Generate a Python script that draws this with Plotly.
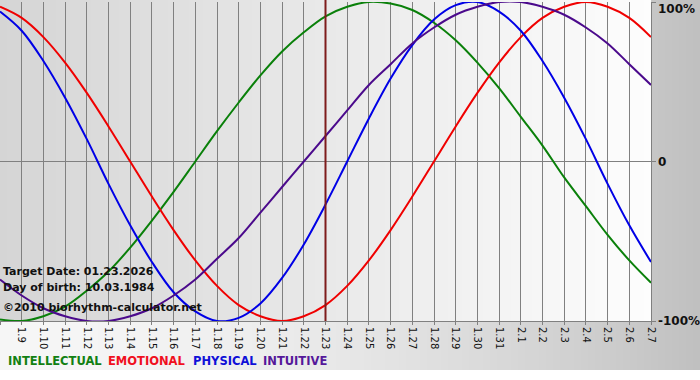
import plotly.graph_objects as go

# ---------------- data ----------------
dates = ["1.8", "1.9", "1.10", "1.11", "1.12", "1.13", "1.14", "1.15", "1.16", "1.17",
         "1.18", "1.19", "1.20", "1.21", "1.22", "1.23", "1.24", "1.25", "1.26", "1.27",
         "1.28", "1.29", "1.30", "1.31", "2.1", "2.2", "2.3", "2.4", "2.5", "2.6", "2.7"]

intellectual = [-0.99, -1.00, -0.97, -0.91, -0.81, -0.69, -0.54, -0.37, -0.19, 0.00,
                0.19, 0.37, 0.54, 0.69, 0.81, 0.91, 0.97, 1.00, 0.99, 0.95,
                0.87, 0.76, 0.62, 0.46, 0.28, 0.10, -0.10, -0.28, -0.46, -0.62, -0.76]

emotional = [0.97, 0.90, 0.78, 0.62, 0.43, 0.22, 0.00, -0.22, -0.43, -0.62,
             -0.78, -0.90, -0.97, -1.00, -0.97, -0.90, -0.78, -0.62, -0.43, -0.22,
             0.00, 0.22, 0.43, 0.62, 0.78, 0.90, 0.97, 1.00, 0.97, 0.90, 0.78]

physical = [0.94, 0.82, 0.63, 0.40, 0.14, -0.14, -0.40, -0.63, -0.82, -0.94,
            -1.00, -0.98, -0.89, -0.73, -0.52, -0.27, 0.00, 0.27, 0.52, 0.73,
            0.89, 0.98, 1.00, 0.94, 0.82, 0.63, 0.40, 0.14, -0.14, -0.40, -0.63]

intuitive = [-0.74, -0.84, -0.92, -0.97, -1.00, -1.00, -0.97, -0.92, -0.84, -0.74,
             -0.61, -0.48, -0.32, -0.16, 0.00, 0.16, 0.32, 0.48, 0.61, 0.74,
             0.84, 0.92, 0.97, 1.00, 1.00, 0.97, 0.92, 0.84, 0.74, 0.61, 0.48]

series_names = ["INTELLECTUAL", "EMOTIONAL", "PHYSICAL", "INTUITIVE"]
y_tick_values = [1, 0, -1]
y_tick_labels = ["100%", "0", "-100%"]
target_date = "1.23"
info_lines = ["Target Date: 01.23.2026", "Day of birth: 10.03.1984", "\u00a92010 biorhythm-calculator.net"]

# ---------------- style ----------------
line_colors = ["#0a800a", "#f00000", "#0000e6", "#4b0a8c"]
legend_colors = ["#128012", "#f0101e", "#1010d8", "#55189a"]
FW, FH = 700, 380
L, R, T, B = 0, 49, 2, 59
PW, PH = FW - L - R, FH - T - B


def px_x(p):
    return (p - L) / PW


def px_y(p):
    return (FH - B - p) / PH


def gray(v):
    v = int(round(max(0, min(255, v))))
    return f"rgb({v},{v},{v})"


x_idx = list(range(len(dates)))
series = [intellectual, emotional, physical, intuitive]

fig = go.Figure()
for name, vals, col in zip(series_names, series, line_colors):
    fig.add_trace(go.Scatter(x=x_idx, y=vals, mode="lines", name=name,
                             line=dict(color=col, width=2, shape="spline", smoothing=1.0),
                             hoverinfo="skip", showlegend=False))

shapes = []
# outer background gradient (white-ish left to gray right)
step = 7
for p in range(0, FW, step):
    t = (p + step / 2) / FW
    c = 246 - 54 * (t ** 1.8)
    shapes.append(dict(type="rect", xref="paper", yref="paper", layer="below",
                       x0=px_x(p), x1=px_x(p + step + 0.5), y0=px_y(370), y1=px_y(0),
                       fillcolor=gray(c), line=dict(width=0)))
# plot area gradient (gray left to white right)
for p in range(0, PW, step):
    t = (p + step / 2) / PW
    c = 213 + 40 * t
    shapes.append(dict(type="rect", xref="paper", yref="paper", layer="below",
                       x0=px_x(p), x1=px_x(min(PW, p + step + 0.5)), y0=0, y1=px_y(0),
                       fillcolor=gray(c), line=dict(width=0)))
# target date line
ti = dates.index(target_date)
shapes.append(dict(type="line", xref="x", yref="paper", layer="above",
                   x0=ti, x1=ti, y0=0, y1=px_y(0),
                   line=dict(color="#7e1c1c", width=2)))

annotations = []
for v, lab in zip(y_tick_values, y_tick_labels):
    if v == 1:
        yy, ya = px_y(0), "top"
    else:
        yy, ya = (v + 1) / 2, "middle"
    annotations.append(dict(xref="paper", yref="paper", x=px_x(656), y=yy,
                            xanchor="left", yanchor=ya, text=lab, showarrow=False,
                            font=dict(family="DejaVu Sans", size=12, color="#111111", weight="bold")))

for lab, yp in zip(info_lines, [271, 287, 307]):
    annotations.append(dict(xref="paper", yref="paper", x=px_x(1), y=px_y(yp),
                            xanchor="left", yanchor="middle", text=lab, showarrow=False,
                            font=dict(family="DejaVu Sans", size=11, color="#111111", weight="bold")))

for lab, col, xp in zip(series_names, legend_colors, [6, 106, 191, 261]):
    annotations.append(dict(xref="paper", yref="paper", x=px_x(xp), y=px_y(361),
                            xanchor="left", yanchor="middle", text=lab, showarrow=False,
                            font=dict(family="DejaVu Sans", size=11.5, color=col, weight="bold")))

fig.update_layout(
    width=FW, height=FH,
    margin=dict(l=L, r=R, t=T, b=B, pad=0, autoexpand=False),
    paper_bgcolor="white",
    plot_bgcolor="rgba(0,0,0,0)",
    shapes=shapes,
    annotations=annotations,
    showlegend=False,
    xaxis=dict(range=[0, len(dates) - 1], tickmode="array", tickvals=x_idx, ticktext=dates,
               tickangle=90, tickfont=dict(family="DejaVu Sans", size=10, color="#111111"),
               showgrid=True, gridcolor="#808080", gridwidth=1, automargin=False,
               ticks="outside", ticklen=3, tickcolor="#808080",
               showline=True, linecolor="#808080", linewidth=1, mirror=False,
               zeroline=False, fixedrange=True),
    yaxis=dict(range=[-1, 1], tickmode="array", tickvals=y_tick_values, ticktext=["", "", ""],
               side="right", showgrid=False, zeroline=True, zerolinecolor="#808080", zerolinewidth=1,
               ticks="outside", ticklen=4, tickcolor="#808080", automargin=False,
               showline=True, linecolor="#808080", linewidth=1, fixedrange=True),
)

fig.write_html("out.html", config={"displayModeBar": False},
               post_script="document.body.style.margin='0';document.body.style.padding='0';")
